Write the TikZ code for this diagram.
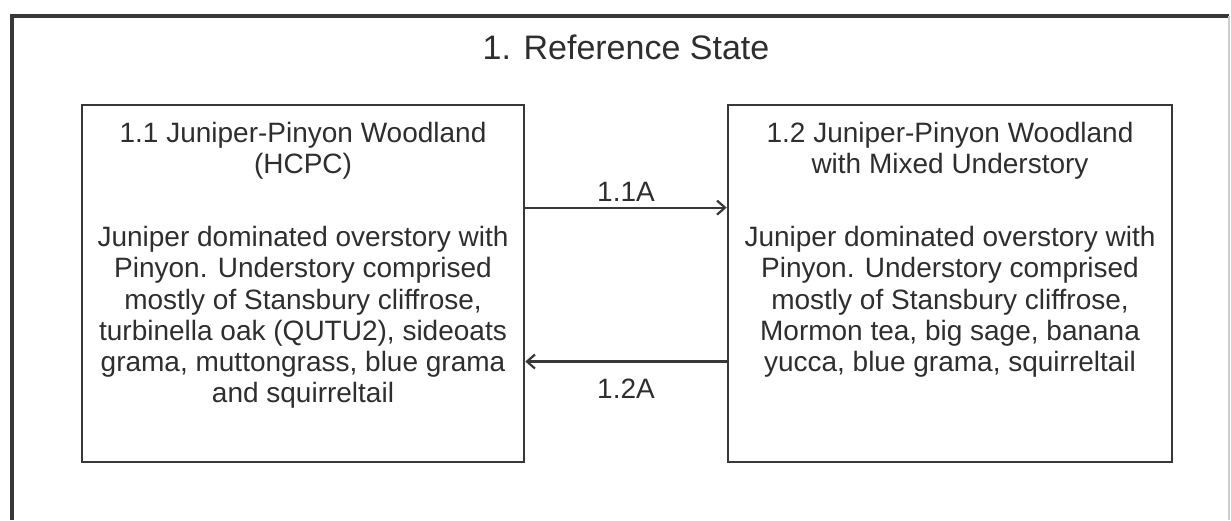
\documentclass[tikz,border=0pt]{standalone}
\usepackage{fontspec}
\setmainfont{Liberation Sans}
\usepackage{tikz}
\usetikzlibrary{calc,positioning,arrows.meta}
\usepackage{xcolor}
\definecolor{frameline}{rgb}{0.22, 0.22, 0.22}
\definecolor{inktext}{rgb}{0.18, 0.18, 0.18}
\newcommand{\bodyfont}{\fontsize{14}{15.6}\selectfont}
\newcommand{\headfont}{\fontsize{17}{19}\selectfont}

\begin{document}
\begin{tikzpicture}[x=0.5pt,y=-0.5pt]
        \tikzstyle{statebox}=[draw=frameline, line width=1.3pt, inner sep=0pt, minimum width=221pt, minimum height=178.5pt]
        \tikzstyle{boxtext}=[text=inktext, font=\bodyfont, align=center, inner sep=0pt, anchor=north]
        \tikzstyle{arr}=[draw=frameline, line width=1.1pt, -{Straight Barb[length=4pt,width=7pt]}]
        \useasboundingbox (0,0) rectangle (1231,520);
        % outer frame of the reference state (open at the bottom)
        \draw[frameline, line width=1.7pt] (12,520) -- (12,16) -- (1229,16);
        \draw[frameline!25, line width=0.6pt] (1229,16) -- (1229,520);
        \node (title)[text=inktext, font=\headfont] at (626,47) {1. Reference State};
        % the two community phases
        \node (s11)[statebox] at (303,283.5) {};
        \node (s12)[statebox, minimum width=222pt] at (950,283.5) {};
        % texts, hung from the top of each box
        \node (s11head)[boxtext] at (303,122) {1.1 Juniper-Pinyon Woodland\\(HCPC)};
        \node (s11body)[boxtext] at (303,226) {Juniper dominated overstory with\\Pinyon. Understory comprised\\mostly of Stansbury cliffrose,\\turbinella oak (QUTU2), sideoats\\grama, muttongrass, blue grama\\and squirreltail};
        \node (s12head)[boxtext] at (950,122) {1.2 Juniper-Pinyon Woodland\\with Mixed Understory};
        \node (s12body)[boxtext] at (950,226) {Juniper dominated overstory with\\Pinyon. Understory comprised\\mostly of Stansbury cliffrose,\\Mormon tea, big sage, banana\\yucca, blue grama, squirreltail};
        % transitions between the phases
        \draw[arr] ($(s11.north east)!0.289!(s11.south east)$) -- ($(s12.north west)!0.289!(s12.south west)$)
            node[midway, above=2.5pt, inner sep=0pt, text=inktext, font=\bodyfont] (t11a) {1.1A};
        \draw[arr] ($(s12.north west)!0.717!(s12.south west)$) -- ($(s11.north east)!0.717!(s11.south east)$)
            node[midway, below=8pt, inner sep=0pt, text=inktext, font=\bodyfont] (t12a) {1.2A};
    \end{tikzpicture}
\end{document}
